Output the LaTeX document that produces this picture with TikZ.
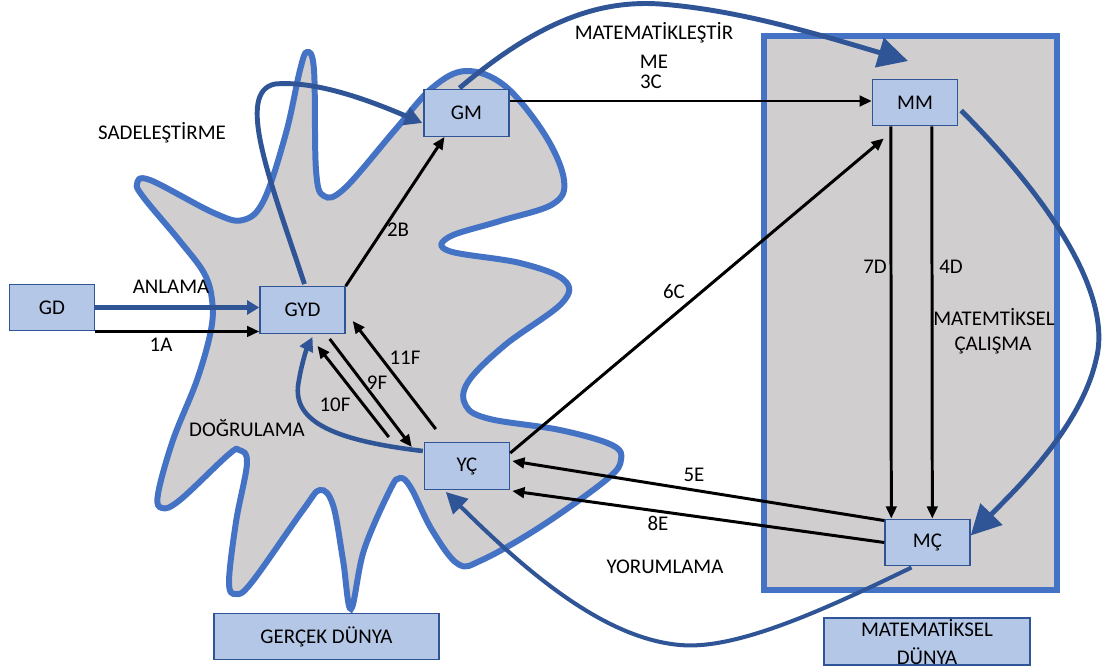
\documentclass[tikz,border=0pt]{standalone}
\usepackage{fontspec}
\setmainfont{Carlito}
\usetikzlibrary{arrows.meta,calc}
\definecolor{blobfill}{RGB}{208,206,206}
\definecolor{blobline}{RGB}{68,114,196}
\definecolor{boxfill}{RGB}{180,199,231}
\definecolor{boxline}{RGB}{47,85,151}
\definecolor{curveblue}{RGB}{47,85,151}
\begin{document}
\begin{tikzpicture}[x=0.02cm,y=-0.02cm,
  font=\fontsize{11.9}{14}\selectfont,
  box/.style={draw=boxline, fill=boxfill, line width=0.8pt, minimum width=1.7cm, minimum height=0.93cm, inner sep=0pt},
  lbl/.style={inner sep=0pt},
  blk/.style={draw=black, line width=1.7pt, -{Triangle[length=7pt,width=6pt]}},
  bigcurve/.style={draw=curveblue, line width=2.8pt, -{Triangle[length=17pt,width=17pt]}},
  smallcurve/.style={draw=curveblue, line width=2.8pt, -{Triangle[length=10pt,width=10.5pt]}}
]
\useasboundingbox (0,0) rectangle (1102,670);

% real-world blob
\draw[fill=blobfill, draw=blobline, line width=3.4pt]
  plot[smooth cycle, tension=0.6] coordinates {
  (300,70) (307,52) (314,70) (316,170) (324,196) (345,188) (395,130) (432,88)
  (466,71) (505,86) (545,135) (564,180) (553,204) (500,221) (449,237) (449,251)
  (520,263) (564,280) (562,303) (505,345) (468,382) (466,406) (490,419) (560,430)
  (612,445) (621,460) (606,480) (540,527) (482,560) (458,564) (432,530) (411,488)
  (400,478) (390,490) (364,550) (351,609) (343,560) (333,505) (320,490) (303,510)
  (252,582) (236,594) (229,582) (236,522) (247,463) (239,450) (228,455) (180,500)
  (162,508) (158,494) (173,440) (197,380) (211,330) (212,300) (204,273) (179,240)
  (144,198) (137,184) (150,180) (214,213) (243,220) (264,200) (286,133)};

% mathematical world frame
\draw[fill=blobfill, draw=blobline, line width=3.7pt] (764,36) rectangle (1057,590);

% nodes
\node[box] (GD) at (52,307.5) {GD};
\node[box] (GYD) at (302.5,310) {GYD};
\node[box] (GM) at (466.5,113) {GM};
\node[box] (YC) at (467,466) {YÇ};
\node[box] (MM) at (915,102.5) {MM};
\node[box] (MC) at (927.5,542.5) {MÇ};
\node[box, minimum width=4.5cm] (GW) at (326.5,636.5) {GERÇEK DÜNYA};
\node[box, minimum width=4.12cm, minimum height=0.94cm] (MW) at (927,641.5) {};
\node[lbl, align=center, font=\fontsize{11.9}{16}\selectfont] (MWt) at (927,642) {MATEMATİKSEL\\DÜNYA};

% black connectors
\draw[blk] (GD.south east) -- (GD.south east -| GYD.west);
\draw[blk] (GYD.north east) -- ($(GM.south)+(-22,0)$);
\draw[blk] ($(GM.east)+(0,-12)$) -- ($(MM.west)+(0,-1.5)$);
\draw[blk] ($(YC.north east)+(0,11)$) -- ($(MM.south west)+(12,12)$);
\draw[blk] ($(MM.south west)+(19,0)$) -- ($(MC.north west)+(7,0)$);
\draw[blk] ($(MM.south west)+(60,0)$) -- ($(MC.north west)+(48,0)$);
\draw[blk] ($(MC.north west)+(0,2)$) -- ($(YC.east)+(2,-5)$);
\draw[blk] (MC.west) -- ($(YC.south east)+(2,1)$);
\draw[blk] ($(GYD.south east)+(-16,5)$) -- ($(YC.north west)+(-12,5)$);
\draw[blk] ($(YC.north west)+(-35,-5)$) -- ($(GYD.south)+(15,12)$);
\draw[blk] ($(YC.north west)+(12,-13)$) -- ($(GYD.south east)+(7,-13)$);

% blue connectors
\draw[draw=curveblue, line width=2.8pt, -{Triangle[length=7pt,width=8pt]}] (GD.east) -- (GD.east -| GYD.west);
\draw[smallcurve] ($(GYD.north)+(2,-2)$) .. controls (270,180) and (235,92) .. (275,84)
  .. controls (320,80) and (380,105) .. ($(GM.west)+(-1,10)$);
\draw[bigcurve] ($(GM.north)+(-7,-1)$) .. controls (540,20) and (600,0) .. (660,4)
  .. controls (740,10) and (820,35) .. (908,61);
\draw[bigcurve] ($(MM.east)+(3,8)$) .. controls (1060,210) and (1112,300) .. (1096,360)
  .. controls (1080,430) and (1010,495) .. ($(MC.east)+(0,-7)$);
\draw[draw=curveblue, line width=2.3pt, -{Triangle[length=12pt,width=12pt]}] ($(MC.south)+(-16,1)$) .. controls (820,612) and (735,650) .. (680,645)
  .. controls (600,638) and (520,565) .. ($(YC.south west)+(22,2)$);
\draw[draw=curveblue, line width=2.6pt, -{Triangle[length=8pt,width=8pt]}] ($(YC.west)+(-1,-15)$) .. controls (330,440) and (290,420) .. (299,380)
  .. controls (302,362) and (307,348) .. ($(GYD.south)+(10,3)$);

% labels
\node[lbl] (lANL) at (171,287) {ANLAMA};
\node[lbl] (l1A) at (161,345) {1A};
\node[lbl] (l2B) at (398,230) {2B};
\node[lbl] (lSAD) at (162,133) {SADELEŞTİRME};
\node[lbl] (lMAT) at (654,33) {MATEMATİKLEŞTİR};
\node[lbl] (lME) at (654,62) {ME};
\node[lbl] (l3C) at (651,82) {3C};
\node[lbl] (l6C) at (674,292) {6C};
\node[lbl] (l7D) at (875,267) {7D};
\node[lbl] (l4D) at (951,267) {4D};
\node[lbl] (lMC1) at (994,317) {MATEMTİKSEL};
\node[lbl] (lMC2) at (993,345) {ÇALIŞMA};
\node[lbl] (l5E) at (694,475) {5E};
\node[lbl] (l8E) at (658,523) {8E};
\node[lbl] (lYOR) at (665,567) {YORUMLAMA};
\node[lbl] (l11F) at (405,358) {11F};
\node[lbl] (l9F) at (377,383) {9F};
\node[lbl] (l10F) at (335,405) {10F};
\node[lbl] (lDOG) at (247,428) {DOĞRULAMA};
\end{tikzpicture}
\end{document}
